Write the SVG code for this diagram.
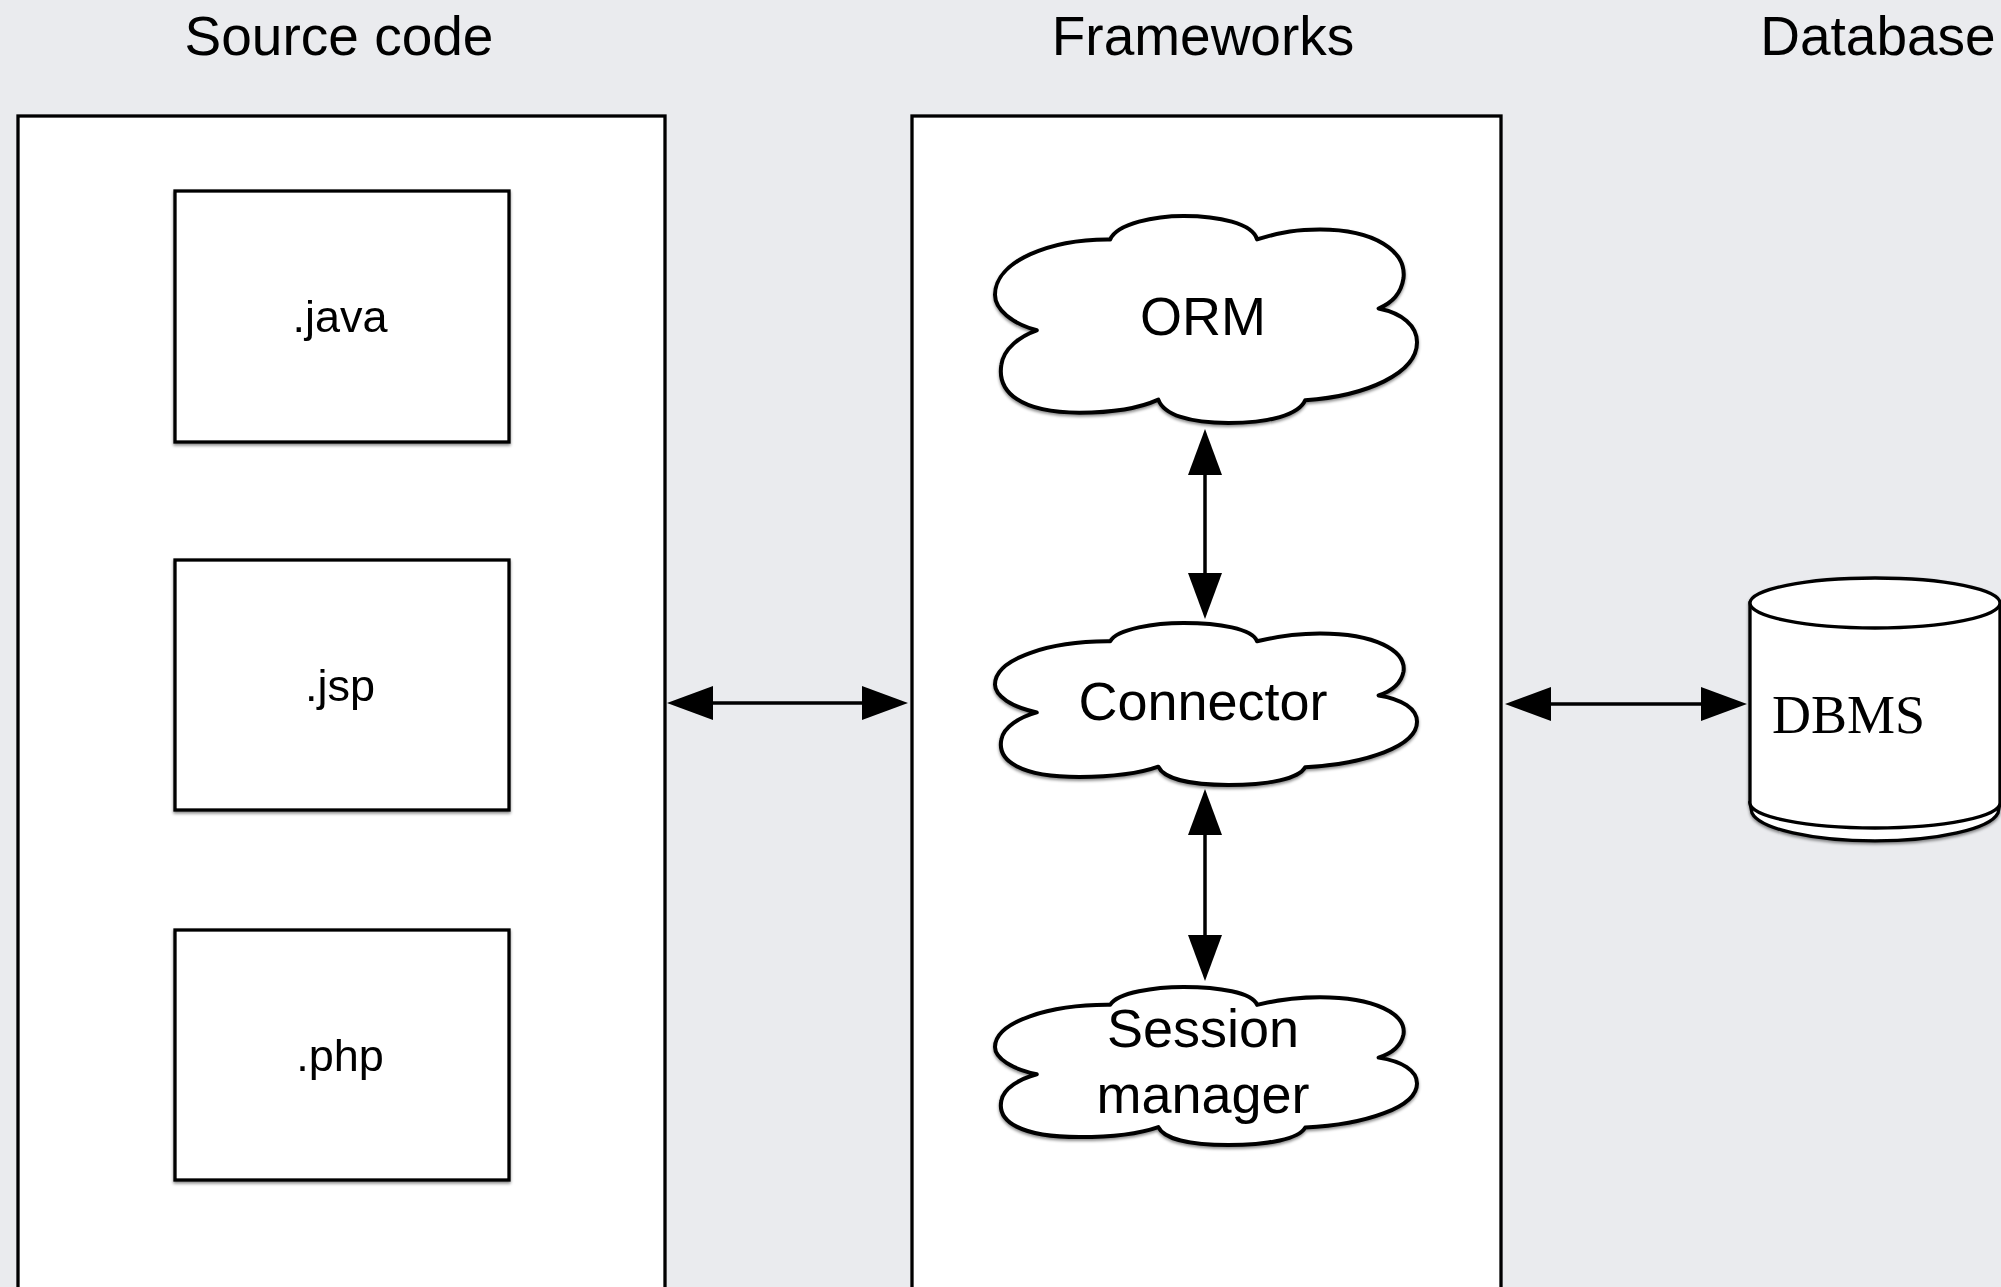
<svg xmlns="http://www.w3.org/2000/svg" width="2001" height="1287" viewBox="0 0 2001 1287">
  <defs>
    <style>
      .title { font-family: "Liberation Sans", Arial, sans-serif; font-size: 55px; fill: #000; text-anchor: middle; }
      .lbl { font-family: "Liberation Sans", Arial, sans-serif; font-size: 45px; fill: #000; text-anchor: middle; }
      .clbl { font-family: "Liberation Sans", Arial, sans-serif; font-size: 54px; fill: #000; text-anchor: middle; }
      .db { font-family: "Liberation Serif", "Times New Roman", serif; font-size: 54px; fill: #000; }
      .box { fill: #fff; stroke: #000; stroke-width: 3.3; }
      .cloud { fill: #fff; stroke: #000; stroke-width: 4; stroke-linejoin: round; }
      .conn { stroke: #000; stroke-width: 3.5; fill: none; marker-start: url(#ah); marker-end: url(#ah); }
    </style>
    <marker id="ah" markerUnits="userSpaceOnUse" markerWidth="46" markerHeight="34" viewBox="0 0 46 34" refX="36" refY="17" orient="auto-start-reverse">
      <path d="M0,0 L46,17 L0,34 Z" fill="#000"/>
    </marker>
    <filter id="sh" x="-5%" y="-5%" width="110%" height="115%">
      <feDropShadow dx="0" dy="2" stdDeviation="1.5" flood-color="#000" flood-opacity="0.45"/>
    </filter>
    <path id="cloudShape" vector-effect="non-scaling-stroke" d="M273,113 C290,35 380,0 447,0 C530,0 610,35 621,113 C680,75 720,65 770,65 C900,65 975,170 968,300 C962,380 940,420 909,447 C965,470 1000,530 1000,610 C1000,760 880,870 735,890 C720,960 650,1000 553,1000 C460,1000 400,960 387,887 C330,940 260,950 200,950 C60,950 5,850 15,720 C20,640 60,580 99,552 C40,520 0,450 0,380 C0,220 130,110 273,113 Z"/>
  </defs>

  <rect x="0" y="0" width="2001" height="1287" fill="#eaebee"/>

  <g id="titles">
    <text class="title" x="339" y="55">Source code</text>
    <text class="title" x="1203" y="55">Frameworks</text>
    <text class="title" x="1878" y="55">Database</text>
  </g>

  <g id="source-code">
    <rect class="box" x="18" y="116" width="647" height="1200"/>
  </g>
  <g id="frameworks">
    <rect class="box" x="912" y="116" width="589" height="1200"/>
  </g>

  <g id="java" filter="url(#sh)">
    <rect class="box" x="175" y="191" width="334" height="251"/>
    <text class="lbl" x="340" y="332">.java</text>
  </g>
  <g id="jsp" filter="url(#sh)">
    <rect class="box" x="175" y="560" width="334" height="250"/>
    <text class="lbl" x="340" y="701">.jsp</text>
  </g>
  <g id="php" filter="url(#sh)">
    <rect class="box" x="175" y="930" width="334" height="250"/>
    <text class="lbl" x="340" y="1071">.php</text>
  </g>

  <g id="orm" filter="url(#sh)">
    <use href="#cloudShape" class="cloud" transform="translate(995,216) scale(0.422,0.207)"/>
    <text class="clbl" x="1203" y="335">ORM</text>
  </g>
  <g id="connector" filter="url(#sh)">
    <use href="#cloudShape" class="cloud" transform="translate(995,623) scale(0.422,0.162)"/>
    <text class="clbl" x="1203" y="720">Connector</text>
  </g>
  <g id="session-manager" filter="url(#sh)">
    <use href="#cloudShape" class="cloud" transform="translate(995,987) scale(0.422,0.158)"/>
    <text class="clbl" x="1203" y="1047">Session</text>
    <text class="clbl" x="1203" y="1113">manager</text>
  </g>

  <g id="dbms" filter="url(#sh)">
    <path class="box" d="M1750,803 L1752,813 A124,32 0 0 0 1998,813 L2000,803 Z"/>
    <path class="box" d="M1750,603 L1750,803 A125,25 0 0 0 2000,803 L2000,603 Z"/>
    <ellipse class="box" cx="1875" cy="603" rx="125" ry="25"/>
    <text class="db" x="1772" y="733">DBMS</text>
  </g>

  <g id="connectors">
    <line class="conn" x1="677" y1="703" x2="898" y2="703"/>
    <line class="conn" x1="1515" y1="704" x2="1737" y2="704"/>
    <line class="conn" x1="1205" y1="439" x2="1205" y2="609"/>
    <line class="conn" x1="1205" y1="799" x2="1205" y2="971"/>
  </g>
</svg>
